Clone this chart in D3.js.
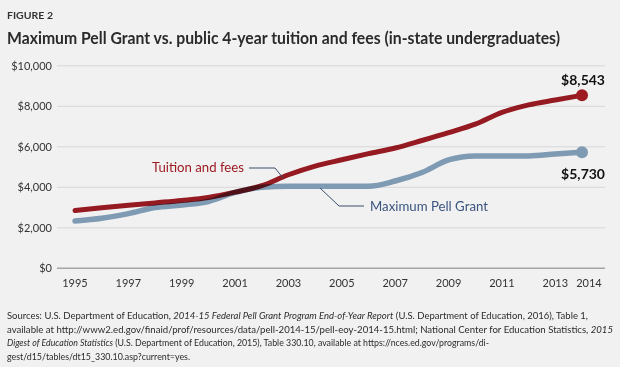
<!DOCTYPE html>
<html>
<head>
<meta charset="utf-8">
<script src="https://cdn.jsdelivr.net/npm/d3@7"></script>
<style>
  html, body { margin: 0; padding: 0; background: #f1f1f1; }
  svg { display: block; font-family: Lato, "Open Sans", sans-serif; }
</style>
</head>
<body>
<svg id="chart" width="620" height="367"></svg>
<script>
const years = [1995,1996,1997,1998,1999,2000,2001,2002,2003,2004,2005,2006,2007,2008,2009,2010,2011,2012,2013,2014];
const tuition = [2850,2990,3110,3230,3350,3500,3760,4080,4620,5050,5360,5660,5940,6310,6700,7120,7700,8070,8310,8543];
const pell = [2340,2470,2700,3000,3125,3300,3750,4000,4050,4050,4050,4050,4310,4731,5350,5550,5550,5550,5645,5730];
const xTickYears = [1995,1997,1999,2001,2003,2005,2007,2009,2011,2013,2014];
const yTicks = [0,2000,4000,6000,8000,10000];
const figureLabel = "FIGURE 2";
const title = "Maximum Pell Grant vs. public 4-year tuition and fees (in-state undergraduates)";
const seriesNames = ["Tuition and fees", "Maximum Pell Grant"];
const sourceLines = [
  [["Sources: U.S. Department of Education, ", false], ["2014-15 Federal Pell Grant Program End-of-Year Report", true], [" (U.S. Department of Education, 2016), Table 1,", false]],
  [["available at http://www2.ed.gov/finaid/prof/resources/data/pell-2014-15/pell-eoy-2014-15.html; National Center for Education Statistics, ", false], ["2015", true]],
  [["Digest of Education Statistics", true], [" (U.S. Department of Education, 2015), Table 330.10, available at https://nces.ed.gov/programs/di-", false]],
  [["gest/d15/tables/dt15_330.10.asp?current=yes.", false]]
];
const sourceWidths = [581, 606, 482, 183];

const RED = "#9e1b22", BLUE = "#7f9bb4", LEADER = "#3b4e6b", LABELBLUE = "#3a5480";

const svg = d3.select("#chart");
svg.append("rect").attr("width", 620).attr("height", 367).attr("fill", "#f1f1f1");

const x = d3.scaleLinear().domain([1995, 2014]).range([75, 582]);
const y = d3.scaleLinear().domain([0, 10000]).range([268.3, 65.8]);

// Titles
svg.append("text").attr("x", 7).attr("y", 18.5).text(figureLabel)
  .attr("font-size", 10).attr("font-weight", 700).attr("fill", "#333")
  .attr("textLength", 46).attr("lengthAdjust", "spacingAndGlyphs");
svg.append("text").attr("x", 7).attr("y", 44).text(title)
  .attr("font-size", 17).attr("font-weight", 700).attr("fill", "#2a2a2a")
  .attr("textLength", 553).attr("lengthAdjust", "spacingAndGlyphs");

// Gridlines
svg.append("g").selectAll("line").data(yTicks).join("line")
  .attr("x1", 57).attr("x2", 605)
  .attr("y1", d => y(d)).attr("y2", d => y(d))
  .attr("stroke", d => d === 0 ? "#a5a5a5" : "#d7d7d7")
  .attr("stroke-width", d => d === 0 ? 1.4 : 1);

// Y axis labels
const fmt = d => "$" + d3.format(",")(d);
svg.append("g").selectAll("text").data(yTicks).join("text")
  .attr("x", 52).attr("y", d => y(d)).attr("dy", "0.35em")
  .attr("text-anchor", "end").attr("font-size", 11).attr("fill", "#333")
  .text(fmt);

// X axis labels
svg.append("g").selectAll("text").data(xTickYears).join("text")
  .attr("x", d => x(d) + (d === 2014 ? 7 : 0)).attr("y", 283).attr("dy", "0.35em")
  .attr("text-anchor", "middle").attr("font-size", 11).attr("fill", "#333")
  .text(d => d);

// Lines
const line = d3.line().x(d => x(d[0])).y(d => y(d[1])).curve(d3.curveMonotoneX);
const pellData = years.map((yr, i) => [yr, pell[i]]);
const tuitionData = years.map((yr, i) => [yr, tuition[i]]);

svg.append("path").datum(pellData).attr("d", line)
  .attr("fill", "none").attr("stroke", BLUE).attr("stroke-width", 5.5)
  .attr("stroke-linecap", "round").attr("stroke-linejoin", "round");
svg.append("path").datum(tuitionData).attr("d", line)
  .attr("fill", "none").attr("stroke", RED).attr("stroke-width", 5)
  .attr("stroke-linecap", "round").attr("stroke-linejoin", "round")
  .style("mix-blend-mode", "multiply");

// End markers
const last = years.length - 1;
svg.append("circle").attr("cx", x(years[last])).attr("cy", y(tuition[last])).attr("r", 6).attr("fill", RED);
svg.append("circle").attr("cx", x(years[last])).attr("cy", y(pell[last])).attr("r", 6).attr("fill", BLUE);

// End value labels
svg.append("text").attr("x", 605).attr("y", y(tuition[last]) - 15).attr("dy", "0.35em")
  .attr("text-anchor", "end").attr("font-size", 14).attr("font-weight", 700).attr("fill", "#111")
  .text(fmt(tuition[last]));
svg.append("text").attr("x", 605).attr("y", y(pell[last]) + 22).attr("dy", "0.35em")
  .attr("text-anchor", "end").attr("font-size", 14).attr("font-weight", 700).attr("fill", "#111")
  .text(fmt(pell[last]));

// Series labels with leaders
svg.append("text").attr("x", 244).attr("y", 167).attr("dy", "0.35em")
  .attr("text-anchor", "end").attr("font-size", 14).attr("fill", RED)
  .attr("textLength", 92).attr("lengthAdjust", "spacingAndGlyphs")
  .text(seriesNames[0]);
svg.append("polyline")
  .attr("points", [[249, 168], [275, 168], [283, 178]].map(p => p.join(",")).join(" "))
  .attr("fill", "none").attr("stroke", LEADER).attr("stroke-width", 1);

svg.append("polyline")
  .attr("points", [[320, 188], [339, 206], [364, 206]].map(p => p.join(",")).join(" "))
  .attr("fill", "none").attr("stroke", LEADER).attr("stroke-width", 1);
svg.append("text").attr("x", 370).attr("y", 206).attr("dy", "0.35em")
  .attr("font-size", 14).attr("fill", LABELBLUE)
  .attr("textLength", 118).attr("lengthAdjust", "spacingAndGlyphs")
  .text(seriesNames[1]);

// Sources
const src = svg.append("g").attr("font-size", 9.5).attr("fill", "#2b2b2b");
sourceLines.forEach((parts, i) => {
  const t = src.append("text").attr("x", 7).attr("y", 319 + i * 13.7)
    .attr("textLength", sourceWidths[i]).attr("lengthAdjust", "spacingAndGlyphs");
  parts.forEach(([s, it]) => t.append("tspan").attr("font-style", it ? "italic" : "normal").text(s));
});
</script>
</body>
</html>
